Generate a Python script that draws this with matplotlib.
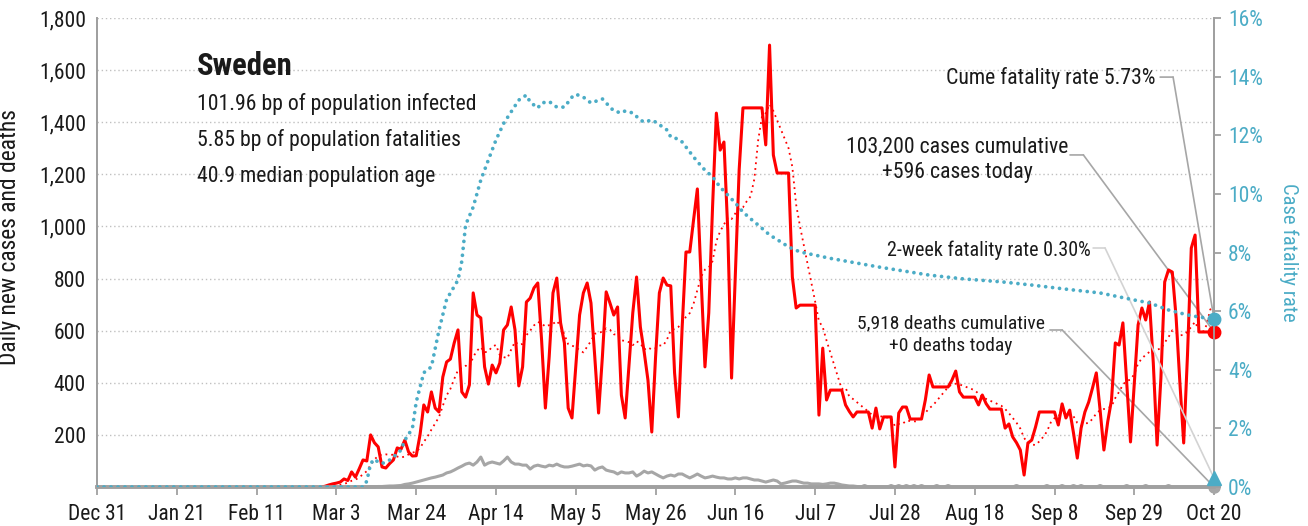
import numpy as np
import pandas as pd
import matplotlib
matplotlib.use('Agg')
import matplotlib.pyplot as plt
from matplotlib import font_manager as fm

# pick a narrow face if one is installed, else DejaVu Sans
_fonts = {(f.name, str(f.stretch)) for f in fm.fontManager.ttflist}
_names = {n for n, s in _fonts}
FONT_STRETCH = 'normal'
if 'Roboto Condensed' in _names:
    FONT = 'Roboto Condensed'
elif 'Liberation Sans Narrow' in _names:
    FONT = 'Liberation Sans Narrow'
elif any(n == 'DejaVu Sans' and 'condensed' in s for n, s in _fonts):
    FONT = 'DejaVu Sans'
    FONT_STRETCH = 'condensed'
else:
    FONT = 'DejaVu Sans'
plt.rcParams['font.family'] = [FONT, 'DejaVu Sans']
plt.rcParams['font.stretch'] = FONT_STRETCH

# x axis: days since Dec 31, 2019
tick_days = list(range(0, 295, 21))
tick_labels = ['Dec 31', 'Jan 21', 'Feb 11', 'Mar 3', 'Mar 24', 'Apr 14', 'May 5',
               'May 26', 'Jun 16', 'Jul 7', 'Jul 28', 'Aug 18', 'Sep 8', 'Sep 29', 'Oct 20']

# daily new cases, from day 59 (Feb 28) to day 294 (Oct 20)
cases_first_day = 59
cases = [
    0, 3, 8, 12, 15, 19, 31,
    25, 58, 38, 70, 104, 100, 200,
    170, 154, 77, 73, 90, 104, 150,
    145, 180, 134, 119, 120, 200, 315,
    288, 365, 303, 288, 422, 480, 491,
    553, 603, 365, 345, 392, 745, 660,
    649, 461, 395, 468, 438, 476, 603,
    622, 691, 603, 388, 461, 710, 725,
    764, 783, 564, 303, 500, 745, 802,
    630, 553, 303, 265, 461, 660, 745,
    783, 706, 499, 284, 499, 749, 706,
    660, 691, 353, 265, 468, 668, 806,
    614, 518, 410, 211, 499, 745, 802,
    775, 772, 438, 269, 614, 902, 902,
    1025, 1144, 794, 461, 668, 1075, 1435,
    1293, 1324, 986, 418, 821, 1217, 1455,
    1455, 1455, 1455, 1455, 1455, 1313, 1696,
    1274, 1205, 1205, 1205, 1205, 806, 687,
    698, 698, 698, 698, 698, 276, 533,
    334, 372, 372, 372, 372, 315, 290,
    269, 288, 288, 288, 288, 226, 303,
    223, 269, 269, 269, 77, 284, 307,
    307, 261, 261, 261, 261, 334, 430,
    384, 384, 384, 384, 384, 410, 445,
    365, 345, 345, 345, 345, 315, 353,
    320, 299, 299, 299, 299, 226, 242,
    192, 170, 142, 46, 169, 180, 230,
    288, 288, 288, 288, 288, 238, 319,
    265, 295, 207, 111, 226, 288, 326,
    380, 438, 295, 142, 250, 334, 553,
    545, 630, 399, 173, 399, 622, 687,
    641, 710, 476, 161, 418, 787, 833,
    825, 652, 400, 169, 507, 917, 967,
    595, 595, 595, 595, 595,
]

# daily deaths, from day 70 to day 294
deaths_first_day = 70
deaths = [
    0, 0, 1, 1, 2, 2, 3,
    4, 4, 5, 6, 10, 12, 15,
    19, 23, 27, 31, 35, 38, 42,
    46, 54, 58, 65, 73, 80, 88,
    92, 84, 96, 115, 84, 92, 96,
    92, 88, 100, 115, 96, 88, 88,
    84, 84, 69, 80, 84, 80, 77,
    84, 81, 88, 81, 77, 77, 80,
    84, 88, 81, 84, 81, 65, 73,
    77, 65, 61, 58, 50, 58, 54,
    54, 58, 42, 50, 61, 54, 58,
    50, 42, 35, 42, 46, 42, 50,
    50, 42, 35, 42, 50, 42, 35,
    38, 42, 38, 35, 35, 31, 31,
    35, 31, 35, 35, 31, 27, 27,
    23, 19, 23, 27, 23, 12, 15,
    19, 23, 23, 19, 15, 15, 12,
    12, 12, 10, 12, 15, 15, 12,
    8, 6, 4, 4, 2, 0, 6,
    0, 0, 0, 0, 0, 0, 6,
    0, 6, 0, 6, 0, 6, 0,
    6, 0, 0, 0, 6, 0, 0,
    6, 0, 0, 0, 0, 0, 0,
    0, 0, 0, 0, 0, 0, 0,
    0, 0, 0, 0, 6, 0, 0,
    0, 0, 0, 0, 0, 6, 0,
    0, 0, 6, 0, 0, 6, 0,
    6, 0, 0, 0, 0, 6, 0,
    0, 0, 0, 0, 0, 6, 0,
    0, 0, 0, 6, 0, 0, 0,
    0, 0, 6, 0, 0, 0, 0,
    0, 0, 0, 0, 0, 0, 0,
    0,
]

# case fatality rate (%), read at these days
cfr_days = [0, 70, 71, 72, 73, 74, 75, 77, 78, 80, 81, 82, 83, 84, 85, 86, 88, 90, 92, 95,
            96, 97, 99, 101, 103, 105, 107, 109, 111, 113, 114, 116, 117, 119, 121, 123,
            125, 126, 128, 130, 133, 134, 136, 138, 139, 141, 143, 144, 146, 147, 150,
            151, 153, 154, 156, 157, 159, 160, 162, 164, 166, 168, 170, 173, 174, 177,
            180, 182, 185, 193, 206, 219, 228, 238, 246, 255, 264, 273, 277, 282, 287,
            290, 294]
cfr_pct = [0, 0, 0.2, 0.8, 0.95, 0.85, 0.8, 0.92, 1.02, 1.26, 1.6, 1.8, 2.0, 2.9, 3.4, 3.9,
           4.1, 5.35, 6.4, 7.06, 7.7, 8.94, 9.55, 10.47, 11.16, 11.84, 12.4, 12.8, 13.2,
           13.37, 13.13, 12.93, 13.1, 13.15, 12.96, 12.96, 13.3, 13.4, 13.3, 13.1, 13.24,
           13.1, 12.83, 12.76, 12.83, 12.76, 12.52, 12.45, 12.52, 12.45, 12.18, 11.94,
           11.87, 11.77, 11.43, 11.26, 10.95, 10.81, 10.58, 10.23, 9.96, 9.69, 9.38, 9.04,
           8.94, 8.6, 8.36, 8.19, 8.02, 7.8, 7.5, 7.23, 7.1, 7.0, 6.89, 6.75, 6.62, 6.38,
           6.28, 6.04, 5.87, 5.8, 5.73]

two_week_cfr = 0.30
cume_cfr = 5.73

country = 'Sweden'
stats = ['101.96 bp of population infected',
         '5.85 bp of population fatalities',
         '40.9 median population age']

RED = '#FF0000'
BLUE = '#4BACC6'
GRAY = '#A6A6A6'
AXGRAY = '#A0A0A0'
INK = '#1A1A1A'

# full daily series with zeros before first report
n_days = tick_days[-1] + 1
all_cases = pd.Series(np.zeros(n_days))
all_cases.iloc[cases_first_day:] = cases
cases_avg = all_cases.rolling(7, min_periods=1).mean()
case_x = np.arange(cases_first_day, n_days)
death_x = np.arange(deaths_first_day, n_days)

fig = plt.figure(figsize=(13.08, 5.26), dpi=100)
ax = fig.add_axes([0.0742, 0.0741, 0.854, 0.8917])
ax2 = ax.twinx()
renderer = fig.canvas.get_renderer()


def fit(t, length_px, vertical=False):
    """scale a text so it is length_px long"""
    bb = t.get_window_extent(renderer)
    cur = bb.height if vertical else bb.width
    t.set_fontsize(t.get_fontsize() * length_px / cur)
    return t.get_fontsize()


# tick label size from the width of "1,800" in the reference
_probe = fig.text(0, 0, '1,800', fontsize=14)
tick_fs = min(fit(_probe, 51), 15.5)
_probe.remove()

ax.set_xlim(0, tick_days[-1])
ax.set_ylim(0, 1800)
ax2.set_ylim(0, 16)

# grid
for v in range(200, 1801, 200):
    ax.axhline(v, color='#C0C0C0', lw=1.0, ls=(0, (1, 2)), zorder=0)

ax.plot(death_x, deaths, color=GRAY, lw=2.2, zorder=3, clip_on=False)
ax.plot(np.arange(n_days), cases_avg, color=RED, lw=1.3, ls=(0, (1, 2.2)), zorder=4)
ax.plot(case_x, cases, color=RED, lw=2.2, zorder=5)
ax2.plot(cfr_days, cfr_pct, color=BLUE, lw=2.7, ls=(0, (0.01, 1.85)),
         dash_capstyle='round', zorder=4)

# end markers
ax.plot(tick_days[-1], deaths[-1], 'o', color=GRAY, ms=8, clip_on=False, zorder=6)
ax.plot(tick_days[-1], cases[-1], 'o', color=RED, ms=9, clip_on=False, zorder=7)
ax2.plot(tick_days[-1], cume_cfr, 'o', color=BLUE, ms=9, clip_on=False, zorder=7)
ax2.plot(tick_days[-1], two_week_cfr, '^', color=BLUE, ms=10, clip_on=False, zorder=7)

# axes styling
ax.set_xticks(tick_days)
ax.set_xticklabels(tick_labels)
ax.set_yticks(range(200, 1801, 200))
ax.set_yticklabels([f'{v:,}' for v in range(200, 1801, 200)])
ax2.set_yticks(range(0, 17, 2))
ax2.set_yticklabels([f'{v}%' for v in range(0, 17, 2)])

for a in (ax, ax2):
    a.spines['top'].set_visible(False)
    a.spines['left'].set_color(AXGRAY)
    a.spines['right'].set_color(AXGRAY)
    a.spines['left'].set_linewidth(1.3)
    a.spines['right'].set_linewidth(1.3)
    a.spines['bottom'].set_color(AXGRAY)
    a.spines['bottom'].set_linewidth(2.6)
ax.tick_params(axis='x', length=6, width=1.3, color=AXGRAY, labelsize=tick_fs,
               labelcolor=INK, pad=6)
ax.tick_params(axis='y', length=0, labelsize=tick_fs, labelcolor=INK, pad=8)
ax2.tick_params(axis='y', length=5, width=1.3, color=AXGRAY, labelsize=tick_fs,
                labelcolor=BLUE, pad=5)

# axis titles sized to their reference lengths
ylab = ax.set_ylabel('Daily new cases and deaths', fontsize=13, color=INK)
fit(ylab, 255, vertical=True)
ax.yaxis.set_label_coords(-0.068, 0.533)
ylab2 = ax2.set_ylabel('Case fatality rate', fontsize=14, color=BLUE, rotation=270,
                       va='bottom')
fit(ylab2, 140, vertical=True)
ax2.yaxis.set_label_coords(1.058, 0.5)

# title block
t = ax.text(0.0895, 0.898, country, transform=ax.transAxes, fontsize=22,
            fontweight='bold', va='center', ha='left', color=INK)
fit(t, 96)
stat_texts = [ax.text(0.0895, 0.817 - i * 0.077, s, transform=ax.transAxes, fontsize=15,
                      va='center', ha='left', color=INK) for i, s in enumerate(stats)]
fs = fit(stat_texts[0], 280)
for st in stat_texts[1:]:
    st.set_fontsize(fs)


# annotations with leader lines
def leader(text_end, kink, target, axis, color):
    ax.annotate('', xy=kink, xytext=text_end, xycoords='axes fraction',
                textcoords='axes fraction',
                arrowprops=dict(arrowstyle='-', color=color, lw=1.2, shrinkA=0, shrinkB=0))
    axis.annotate('', xy=target, xytext=kink, xycoords='data',
                  textcoords='axes fraction',
                  arrowprops=dict(arrowstyle='-', color=color, lw=1.2, shrinkA=0, shrinkB=0),
                  annotation_clip=False)


t = ax.text(0.948, 0.872, f'Cume fatality rate {cume_cfr:.2f}%', transform=ax.transAxes,
            fontsize=15, ha='right', va='center', color=INK)
fit(t, 209)
leader((0.9517, 0.874), (0.9633, 0.874), (tick_days[-1], cume_cfr), ax2, GRAY)

t = ax.text(0.770, 0.698, '103,200 cases cumulative\n+596 cases today',
            transform=ax.transAxes, fontsize=15, ha='center', va='center',
            linespacing=1.25, color=INK)
fit(t, 223)
leader((0.871, 0.708), (0.883, 0.708), (tick_days[-1], cases[-1]), ax, GRAY)

t = ax.text(0.798, 0.505, f'2-week fatality rate {two_week_cfr:.2f}%',
            transform=ax.transAxes, fontsize=13, ha='center', va='center', color=INK)
fit(t, 203)
leader((0.8917, 0.5096), (0.9024, 0.5096), (tick_days[-1], two_week_cfr), ax2, '#D3D3D3')

t = ax.text(0.7645, 0.325, '5,918 deaths cumulative\n+0 deaths today',
            transform=ax.transAxes, fontsize=13, ha='center', va='center',
            linespacing=1.3, color=INK)
fit(t, 187)
leader((0.853, 0.3348), (0.864, 0.3348), (tick_days[-1], deaths[-1]), ax, GRAY)

fig.savefig('out.png', dpi=100)
